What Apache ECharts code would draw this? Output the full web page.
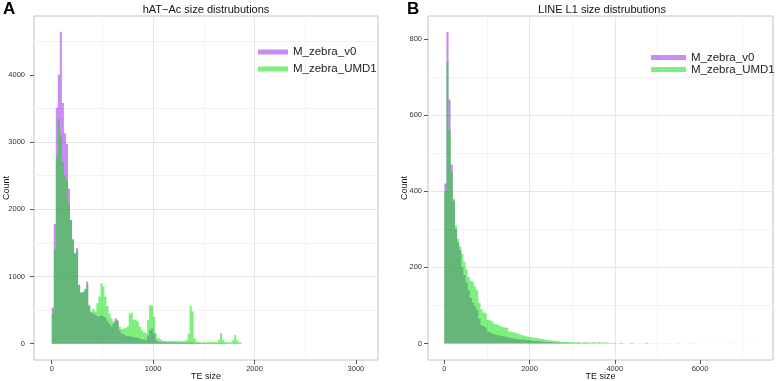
<!DOCTYPE html>
<html>
<head>
<meta charset="utf-8">
<script src="https://cdn.jsdelivr.net/npm/echarts@6/dist/echarts.min.js"></script>
<style>
  html, body { margin: 0; background: #fff; }
  #chart { width: 778px; height: 381px; }
</style>
</head>
<body>
<div id="chart"></div>
<script>
// names + titles
const seriesNames = ['M_zebra_v0', 'M_zebra_UMD1']
const panelTitles = ['hAT\u2212Ac size distrubutions', 'LINE L1 size distrubutions']
const panelLetters = ['A', 'B']

// panel A: hAT-Ac, bins of 20 starting at 0
const binWidthA = 20
const hatV0 = [540, 1780, 3510, 4000, 4640, 3580, 3130, 2970, 2310, 1840,
  1540, 1350, 1420, 870, 760, 760, 800, 925, 560, 460,
  440, 420, 400, 420, 420, 400, 380, 340, 300, 260,
  300, 380, 350, 200, 150, 130, 110, 110, 110, 100,
  90, 90, 80, 70, 60, 60, 60, 120, 200, 230,
  150, 60, 30, 25, 25, 20, 22, 20, 18, 20,
  18, 16, 18, 15, 15, 14, 15, 20, 20, 15,
  10, 10, 8, 8, 8, 6, 6, 7, 6, 5,
  5, 6, 8, 10, 6, 4, 4, 3, 3, 4,
  5, 4, 2, 1]
const hatUMD1 = [450, 1400, 2780, 3350, 3100, 2700, 2500, 2450, 2100, 1840,
  1560, 1330, 1380, 880, 760, 780, 820, 880, 580, 480,
  520, 480, 600, 700, 900, 850, 700, 560, 450, 380,
  330, 340, 320, 250, 220, 240, 230, 260, 450, 470,
  360, 340, 320, 250, 200, 170, 150, 350, 570, 560,
  400, 150, 80, 60, 40, 38, 35, 40, 36, 45,
  40, 35, 38, 34, 40, 45, 60, 150, 560, 480,
  80, 30, 25, 22, 20, 18, 20, 22, 25, 20,
  25, 30, 60, 160, 60, 25, 20, 18, 25, 60,
  130, 50, 20, 12]

// panel B: LINE L1, bins of 50 starting at 0
const binWidthB = 50
const l1V0 = [420, 818, 640, 470, 375, 300, 265, 245, 200, 180,
  160, 140, 120, 108, 98, 88, 65, 48, 44, 40,
  32, 28, 26, 24, 22, 21, 20, 19, 18, 17,
  15, 14, 13, 12, 11, 11, 10, 10, 9, 9,
  8, 7, 7, 6, 6, 5, 5, 4, 4, 4,
  3, 3, 3, 3, 2, 2, 2, 2, 2, 1,
  1, 1, 2, 1, 1, 1, 1, 1, 0, 1,
  1, 0, 1, 0, 0, 1, 0, 0, 1, 0,
  0, 0, 1, 0, 0, 0, 0, 1, 0, 0,
  0, 0, 0, 0, 1, 0, 0, 0, 0, 0]
const l1UMD1 = [400, 740, 560, 450, 380, 310, 275, 255, 235, 215,
  195, 175, 165, 160, 150, 140, 107, 90, 82, 78,
  62, 60, 58, 52, 50, 47, 45, 43, 42, 41,
  32, 30, 29, 27, 25, 23, 22, 20, 19, 18,
  17, 16, 15, 14, 13, 12, 11, 10, 9, 8,
  8, 7, 6, 6, 4, 4, 5, 4, 3, 4,
  4, 3, 4, 3, 3, 4, 3, 3, 3, 4,
  3, 3, 4, 3, 3, 3, 2, 2, 1, 2,
  1, 1, 2, 1, 1, 0, 1, 2, 1, 0,
  1, 1, 0, 1, 2, 1, 0, 1, 1, 0,
  1, 0, 1, 1, 0, 1, 0, 0, 1, 1,
  0, 1, 0, 0, 1, 0, 1, 0, 0, 1,
  0, 0, 1, 0, 0, 1, 0, 0, 0, 1,
  0, 0, 0, 1, 0, 0, 1, 0, 0, 0,
  0, 1, 0, 0, 0, 0, 1, 0, 0, 0]

// tick labels
const xTicksA = [0, 1000, 2000, 3000]
const yTicksA = [0, 1000, 2000, 3000, 4000]
const xTicksB = [0, 2000, 4000, 6000]
const yTicksB = [0, 200, 400, 600, 800]

const purple = 'rgba(150, 25, 230, 0.5)'
const green = 'rgba(0, 225, 0, 0.5)'
const font = '"Liberation Sans", Arial, sans-serif'

var chart = echarts.init(document.getElementById('chart'))

// histogram as a stepped area: one point per bin start + closing point
function histPoints(counts, width) {
  const pts = counts.map((c, i) => [i * width, c])
  pts.push([counts.length * width, 0])
  return pts
}

function histSeries(name, counts, width, idx, color) {
  return {
    type: 'line',
    name: name,
    xAxisIndex: idx,
    yAxisIndex: idx,
    step: 'end',
    symbol: 'none',
    showSymbol: false,
    data: histPoints(counts, width),
    lineStyle: { width: 0, opacity: 0 },
    itemStyle: { color: color },
    areaStyle: { color: color, opacity: 1 },
    animation: false
  }
}

function valueAxis(idx, min, max, step, ticks, isX, margin, gap) {
  return {
    type: 'value',
    gridIndex: idx,
    min: min,
    max: max,
    minInterval: step,
    maxInterval: step,
    name: isX ? 'TE size' : 'Count',
    nameLocation: 'middle',
    nameGap: gap,
    nameMoveOverlap: false,
    nameTextStyle: { fontSize: 9, color: '#111', fontFamily: font },
    axisLine: { show: false, onZero: false },
    axisTick: { show: true, length: 4, customValues: ticks, lineStyle: { color: '#555' } },
    axisLabel: {
      customValues: ticks, fontSize: 7.5, color: '#333', margin: margin, fontFamily: font,
      formatter: v => String(v)
    },
    splitLine: { show: true, showMinLine: false, showMaxLine: false, lineStyle: { color: '#e6e6e6', width: 1 } },
    minorTick: { show: false, splitNumber: 2 },
    minorSplitLine: { show: true, lineStyle: { color: '#f3f3f3', width: 1 } }
  }
}

function legendData() {
  return [
    { name: seriesNames[0], itemStyle: { color: purple } },
    { name: seriesNames[1], itemStyle: { color: green } }
  ]
}

chart.setOption({
  animation: false,
  backgroundColor: '#fff',
  title: [
    { text: panelLetters[0], left: 3, top: 1, padding: 0,
      textStyle: { fontSize: 17, fontWeight: 'bold', color: '#000', fontFamily: font } },
    { text: panelLetters[1], left: 407, top: 1, padding: 0,
      textStyle: { fontSize: 17, fontWeight: 'bold', color: '#000', fontFamily: font } },
    { text: panelTitles[0], left: 206, top: 4, padding: 0, textAlign: 'center',
      textStyle: { fontSize: 11, fontWeight: 'normal', color: '#111', fontFamily: font } },
    { text: panelTitles[1], left: 602, top: 4, padding: 0, textAlign: 'center',
      textStyle: { fontSize: 11, fontWeight: 'normal', color: '#111', fontFamily: font } }
  ],
  legend: [{
    left: 258, top: 46, padding: 0,
    orient: 'vertical', icon: 'rect',
    itemWidth: 30, itemHeight: 5, itemGap: 5,
    textStyle: { fontSize: 11.5, lineHeight: 12, color: '#222', fontFamily: font },
    data: legendData()
  }, {
    left: 651, top: 51.5, padding: 0,
    orient: 'vertical', icon: 'rect',
    itemWidth: 35, itemHeight: 5, itemGap: 0,
    textStyle: { fontSize: 11.5, lineHeight: 11, color: '#222', fontFamily: font },
    data: legendData()
  }],
  grid: [
    { left: 34, right: 400, top: 16, bottom: 21, containLabel: false, outerBoundsMode: 'none',
      show: true, borderColor: '#c2c2c2', borderWidth: 1, backgroundColor: '#fff' },
    { left: 428, right: 5, top: 16, bottom: 21, containLabel: false, outerBoundsMode: 'none',
      show: true, borderColor: '#c2c2c2', borderWidth: 1, backgroundColor: '#fff' }
  ],
  xAxis: [
    valueAxis(0, -175, 3218, 1000, xTicksA, true, 5, 12),
    valueAxis(1, -382, 7712, 2000, xTicksB, true, 5, 12)
  ],
  yAxis: [
    valueAxis(0, -243, 4876, 1000, yTicksA, false, 9, 23),
    valueAxis(1, -43, 860, 200, yTicksB, false, 6, 19)
  ],
  series: [
    histSeries(seriesNames[0], hatV0, binWidthA, 0, purple),
    histSeries(seriesNames[1], hatUMD1, binWidthA, 0, green),
    histSeries(seriesNames[0], l1V0, binWidthB, 1, purple),
    histSeries(seriesNames[1], l1UMD1, binWidthB, 1, green)
  ]
})
</script>
</body>
</html>
